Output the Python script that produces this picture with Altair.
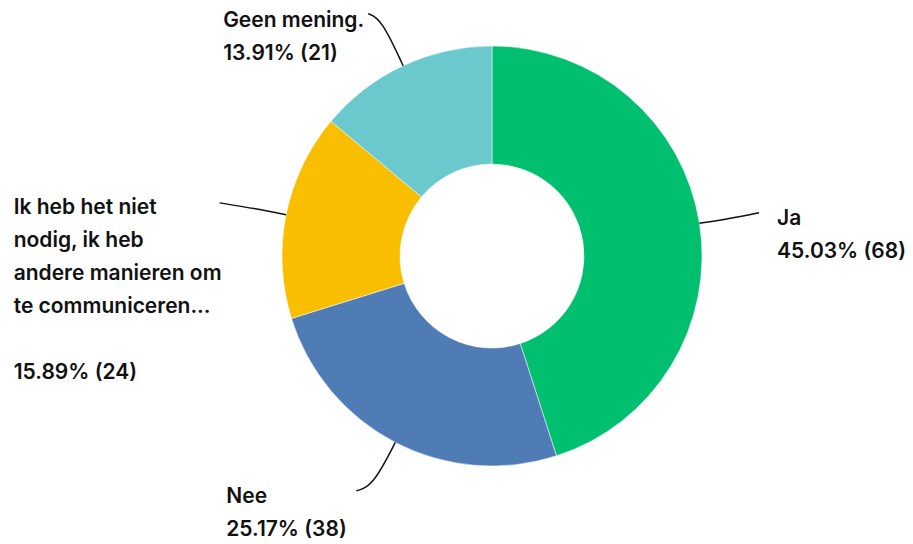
import math
import altair as alt
import pandas as pd

# ---- data ----
categories = ["Ja", "Nee", "Ik heb het niet nodig, ik heb andere manieren om te communiceren...", "Geen mening."]
counts = [68, 38, 24, 21]
percent_labels = ["45.03%", "25.17%", "15.89%", "13.91%"]
label_lines = [
    ["Ja"],
    ["Nee"],
    ["Ik heb het niet", "nodig, ik heb", "andere manieren om", "te communiceren...", ""],
    ["Geen mening."],
]
colors = ["#00BF6F", "#507CB6", "#F9BE00", "#6BC8CD"]

# ---- layout / style ----
W, H = 897, 534
CX, CY = 484, 248
R_OUT, R_IN = 210, 92
FONT = "Inter"
LINE_H = 33
# per-slice leader style: radial extension, end offset from elbow, label offset from end
leader_style = {
    "Ja": dict(ext=30, end=(30, -6), lab=(18, 12)),
    "Nee": dict(ext=50, end=(-16, 4), lab=(-130, 12)),
    categories[2]: dict(ext=30, end=(-37, -6), lab=(-206, 11)),
    "Geen mening.": dict(ext=52, end=(-13, -5), lab=(-145, 13.5)),
}

total = sum(counts)
arc_df = pd.DataFrame({"category": categories, "count": counts, "idx": list(range(len(categories)))})

line_rows, text_rows = [], []
cum = 0
for cat, c, pct, lines in zip(categories, counts, percent_labels, label_lines):
    mid = (cum + c / 2) / total * 2 * math.pi
    cum += c
    dx, dy = math.sin(mid), -math.cos(mid)
    st = leader_style[cat]
    p0 = (CX + R_OUT * dx, CY + R_OUT * dy)
    p1 = (CX + (R_OUT + st["ext"]) * dx, CY + (R_OUT + st["ext"]) * dy)
    p2 = (p1[0] + st["end"][0], p1[1] + st["end"][1])
    for i, p in enumerate([p0, p1, p2]):
        line_rows.append({"category": cat, "pt": i, "x": p[0], "y": p[1]})
    lx, ly = p2[0] + st["lab"][0], p2[1] + st["lab"][1]
    all_lines = lines + [f"{pct} ({c})"]
    for k, t in enumerate(all_lines):
        if t:
            text_rows.append({"category": cat, "x": lx, "y": ly + k * LINE_H, "text": t})

line_df = pd.DataFrame(line_rows)
text_df = pd.DataFrame(text_rows)

xs = alt.Scale(domain=[0, W], nice=False, zero=False)
ys = alt.Scale(domain=[0, H], nice=False, zero=False, reverse=True)

arcs = alt.Chart(arc_df).mark_arc(innerRadius=R_IN, outerRadius=R_OUT, stroke="white", strokeWidth=0.5).encode(
    theta=alt.Theta("count:Q", stack=True),
    order=alt.Order("idx:O"),
    color=alt.Color("category:N", scale=alt.Scale(domain=categories, range=colors), legend=None),
    x=alt.value(CX),
    y=alt.value(CY),
)

leaders = alt.Chart(line_df).mark_line(interpolate="basis", color="#111111", strokeWidth=1.5).encode(
    x=alt.X("x:Q", scale=xs, axis=None),
    y=alt.Y("y:Q", scale=ys, axis=None),
    detail="category:N",
    order="pt:Q",
)

texts = alt.Chart(text_df).mark_text(
    align="left", baseline="alphabetic",
    font=FONT, fontSize=21, fontWeight=600, color="#111111",
).encode(
    x=alt.X("x:Q", scale=xs, axis=None),
    y=alt.Y("y:Q", scale=ys, axis=None),
    text="text:N",
)

chart = alt.layer(arcs, leaders, texts).properties(
    width=W, height=H, padding=0, autosize=alt.AutoSizeParams(type="none")
).configure_view(stroke=None)

chart.save("out.html", embed_options={"renderer": "svg", "actions": False})
